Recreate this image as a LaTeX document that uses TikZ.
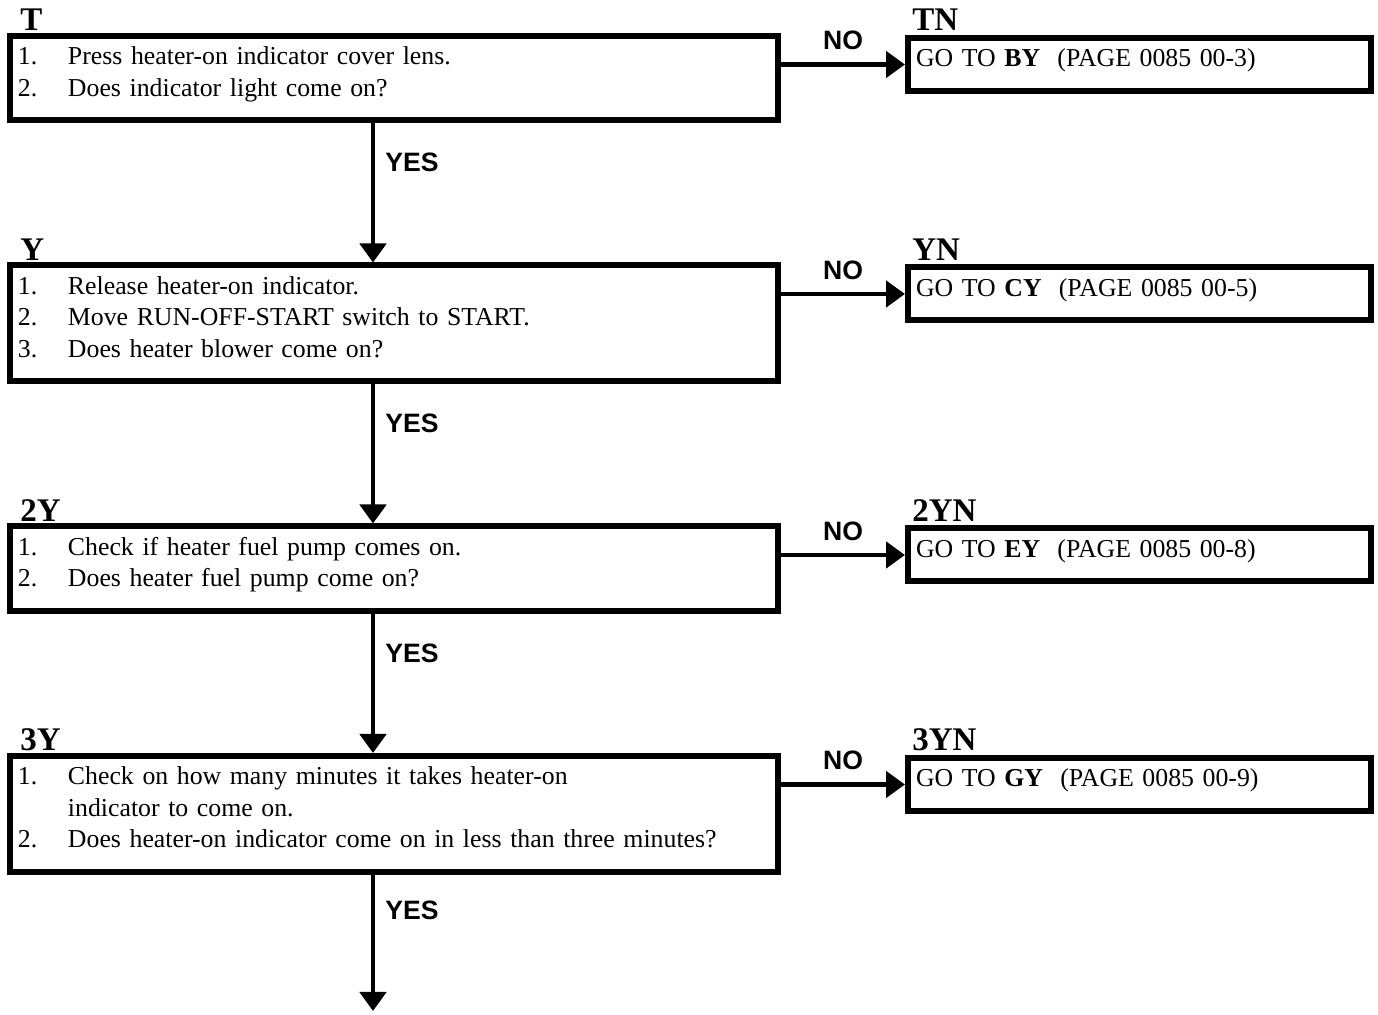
\documentclass[tikz,border=0pt]{standalone}
\usepackage{fontspec}
\setmainfont{Liberation Serif}
\newfontfamily\lblfont{Liberation Sans}
\usetikzlibrary{arrows.meta, positioning}
\newcommand{\qitem}[2]{\makebox[25pt][l]{#1}#2}

\begin{document}
\begin{tikzpicture}[
  x=0.5pt, y=-0.5pt,
  node distance=69.5pt and 62pt,
  box/.style={rectangle, draw, line width=3pt, align=left, inner xsep=4pt, inner ysep=0pt, text height=14.5pt, font=\fontsize{12.9}{15.75}\selectfont},
  qbox/.style={box, text width=376pt},
  gobox/.style={box, text width=223.5pt, text depth=12pt},
  tag/.style={inner sep=0pt, anchor=base west, font=\bfseries\fontsize{16.5}{18}\selectfont},
  lbl/.style={inner sep=0pt, font=\lblfont\bfseries\fontsize{13.3}{16}\selectfont},
  arr/.style={-{Triangle[length=9.5pt, width=13pt]}, line width=2.4pt}
]
\useasboundingbox (0,0) rectangle (1378,1015);
\node[qbox, text depth=27.75pt, anchor=north west] (t) at (7,33) {\qitem{1.}{Press heater-on indicator cover lens.}\\\qitem{2.}{Does indicator light come on?}};
\node[qbox, text depth=43.5pt, below=of t] (y) {\qitem{1.}{Release heater-on indicator.}\\\qitem{2.}{Move RUN-OFF-START switch to START.}\\\qitem{3.}{Does heater blower come on?}};
\node[qbox, text depth=27.75pt, below=of y] (y2) {\qitem{1.}{Check if heater fuel pump comes on.}\\\qitem{2.}{Does heater fuel pump come on?}};
\node[qbox, text depth=43.5pt, below=of y2] (y3) {\qitem{1.}{Check on how many minutes it takes heater-on}\\\hspace*{25pt}indicator to come on.\\\qitem{2.}{Does heater-on indicator come on in less than three minutes?}};
\node[gobox, right=of t.north east, anchor=north west, yshift=-1pt] (tn) {GO TO \textbf{BY}\ \ (PAGE 0085 00-3)};
\node[gobox, right=of y.north east, anchor=north west, yshift=-1pt] (yn) {GO TO \textbf{CY}\ \ (PAGE 0085 00-5)};
\node[gobox, right=of y2.north east, anchor=north west, yshift=-1pt] (y2n) {GO TO \textbf{EY}\ \ (PAGE 0085 00-8)};
\node[gobox, right=of y3.north east, anchor=north west, yshift=-1pt] (y3n) {GO TO \textbf{GY}\ \ (PAGE 0085 00-9)};
\node[tag] (ttag) at ([xshift=6.5pt, yshift=1pt]t.north west) {T};
\node[tag] (ytag) at ([xshift=6.5pt, yshift=1pt]y.north west) {Y};
\node[tag] (y2tag) at ([xshift=6.5pt, yshift=1pt]y2.north west) {2Y};
\node[tag] (y3tag) at ([xshift=6.5pt, yshift=1pt]y3.north west) {3Y};
\node[tag] (tntag) at ([xshift=3.5pt, yshift=2pt]tn.north west) {TN};
\node[tag] (yntag) at ([xshift=3.5pt, yshift=2pt]yn.north west) {YN};
\node[tag] (y2ntag) at ([xshift=3.5pt, yshift=2pt]y2n.north west) {2YN};
\node[tag] (y3ntag) at ([xshift=3.5pt, yshift=2pt]y3n.north west) {3YN};
\coordinate (out) at ([xshift=183pt, yshift=-68pt]y3.south west);
\draw[arr] ([xshift=183pt]t.south west) -- node[lbl, pos=0.28, right=5pt] {YES} ([xshift=183pt]y.north west);
\draw[arr] ([xshift=183pt]y.south west) -- node[lbl, pos=0.28, right=5pt] {YES} ([xshift=183pt]y2.north west);
\draw[arr] ([xshift=183pt]y2.south west) -- node[lbl, pos=0.28, right=5pt] {YES} ([xshift=183pt]y3.north west);
\draw[arr] ([xshift=183pt]y3.south west) -- node[lbl, pos=0.26, right=5pt] {YES} (out);
\draw[arr] (t.east |- tn.west) -- node[lbl, above=6pt] {NO} (tn.west);
\draw[arr] (y.east |- yn.west) -- node[lbl, above=6pt] {NO} (yn.west);
\draw[arr] (y2.east |- y2n.west) -- node[lbl, above=6pt] {NO} (y2n.west);
\draw[arr] (y3.east |- y3n.west) -- node[lbl, above=6pt] {NO} (y3n.west);
\end{tikzpicture}
\end{document}
